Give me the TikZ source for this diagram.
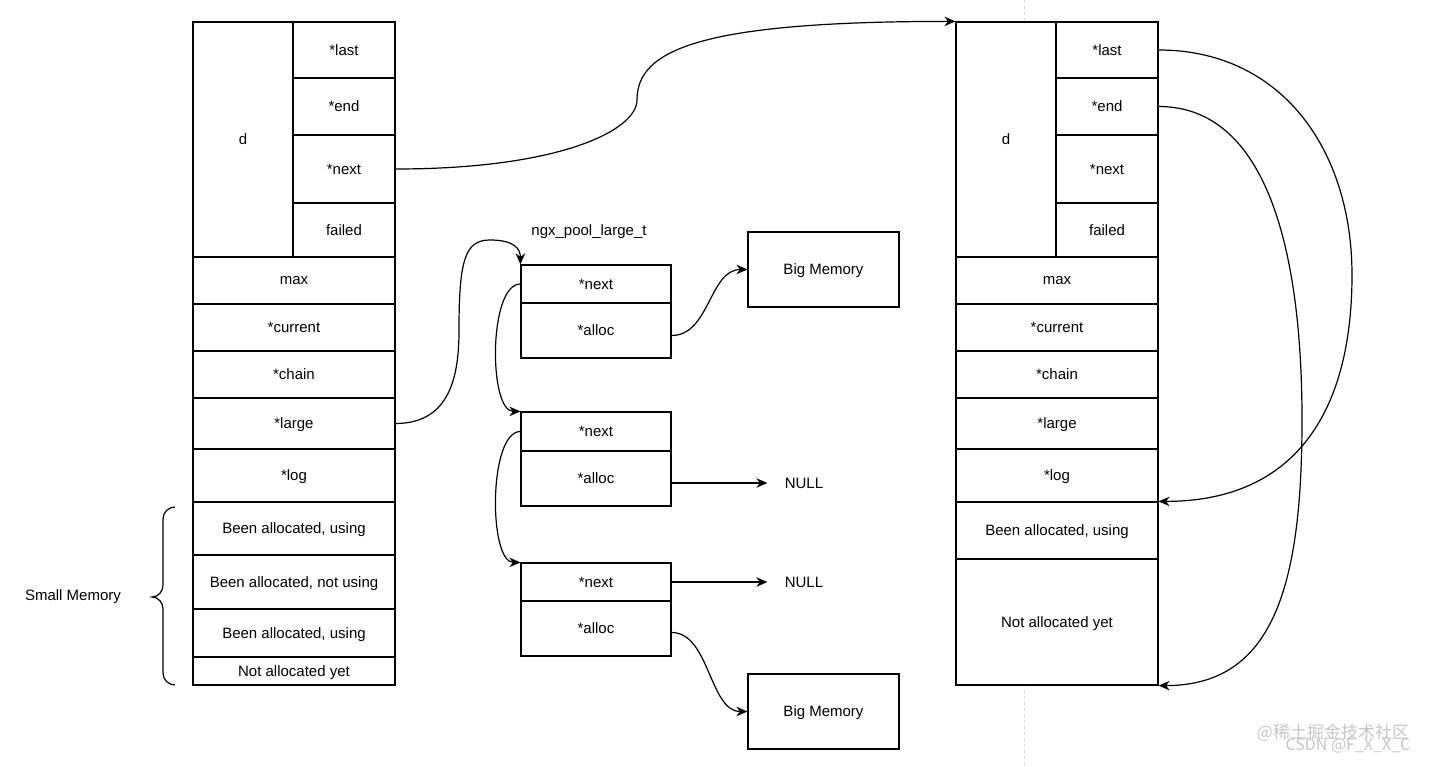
\documentclass[tikz,border=0pt]{standalone}
\usepackage{fontspec}
\setmainfont{Liberation Sans}
\newfontfamily\cjkfont{Noto Sans CJK SC}
\usetikzlibrary{arrows.meta}

\begin{document}
\begin{tikzpicture}[x=1pt, y=-1pt, line width=1.2pt,
    font=\fontsize{15}{18}\selectfont,
    >={Stealth[length=11pt,width=9.5pt,inset=3.5pt]},
    cell/.style={draw, fill=white, inner sep=0pt, text depth=0pt}]
      \useasboundingbox (0,0) rectangle (1433,767);

      % page break line behind the right block
      \draw[gray!30, dashed, line width=1pt] (1024,0) -- (1024,767);

      % the two pool blocks
      \foreach \blk/\sx in {L/0, R/763} {
        \node[cell, minimum width=100pt, minimum height=235pt] (\blk d) at ({243+\sx},139.5) {d};
        \foreach \nm/\yt/\yb/\txt in {last/22/78/*last, end/78/135/*end, next/135/203/*next, failed/203/257/failed}
          \node[cell, minimum width=102pt, minimum height={(\yb-\yt)*1pt}] (\blk\nm) at ({344+\sx},{(\yt+\yb)/2}) {\txt};
        \foreach \nm/\yt/\yb/\txt in {max/257/304/max, current/304/351/*current, chain/351/398/*chain, large/398/449/*large, log/449/502/*log}
          \node[cell, minimum width=202pt, minimum height={(\yb-\yt)*1pt}] (\blk\nm) at ({294+\sx},{(\yt+\yb)/2}) {\txt};
      }
      \foreach \nm/\yt/\yb/\txt in {usedA/502/555/{Been allocated, using}, unused/555/609/{Been allocated, not using}, usedB/609/657/{Been allocated, using}, free/657/685/{Not allocated yet}}
        \node[cell, minimum width=202pt, minimum height={(\yb-\yt)*1pt}] (L\nm) at (294,{(\yt+\yb)/2}) {\txt};
      \foreach \nm/\yt/\yb/\txt in {used/502/559/{Been allocated, using}, free/559/685/{Not allocated yet}}
        \node[cell, minimum width=202pt, minimum height={(\yb-\yt)*1pt}] (R\nm) at (1057,{(\yt+\yb)/2}) {\txt};

      % ngx_pool_large_t chain
      \node (title) at (589,232) {ngx\_pool\_large\_t};
      \foreach \i/\yt/\ym/\yb in {1/265/303/358, 2/412/451/506, 3/563/601/656} {
        \node[cell, minimum width=150pt, minimum height={(\ym-\yt)*1pt}] (P\i next) at (596,{(\yt+\ym)/2}) {*next};
        \node[cell, minimum width=150pt, minimum height={(\yb-\ym)*1pt}] (P\i alloc) at (596,{(\ym+\yb)/2}) {*alloc};
      }
      \node[cell, minimum width=151pt, minimum height=75pt] (big1) at (823.5,269.5) {Big Memory};
      \node[cell, minimum width=151pt, minimum height=75pt] (big2) at (823.5,711.5) {Big Memory};
      \node[minimum width=72pt] (null1) at (804,483) {NULL};
      \node[minimum width=72pt] (null2) at (804,582) {NULL};

      % small memory brace
      \node (small) at (73,597) {Small Memory};
      \draw (175,507) to[out=180,in=90] (163,519) -- (163,585) to[out=-90,in=0] (152,597)
        to[out=0,in=90] (163,609) -- (163,673) to[out=-90,in=180] (175,685);

      \draw[->] (Lnext.east) .. controls +(165,0) and +(0,30) .. (637,100)
        .. controls +(0,-50) and +(-256,0) .. (Rd.north west);
      \draw[->] (Llarge.east) .. controls +(55,0) and +(0,45) .. (459,330)
        .. controls +(0,-70) and +(-25,0) .. (490,240)
        .. controls +(25,0) and +(0,-15) .. (P1next.north west);
      \draw[->] (P1next.west) .. controls +(-32,0) and +(-32,0) .. (P2next.north west);
      \draw[->] (P2next.west) .. controls +(-32,0) and +(-32,0) .. (P3next.north west);
      \draw[->] ([yshift=-5pt]P1alloc.east) .. controls +(38,0) and +(-38,0) .. (big1.west);
      \draw[->] (P2alloc.east |- null1) -- (null1.west);
      \draw[->] (P3next.east) -- (null2.west);
      \draw[->] ([yshift=-4pt]P3alloc.east) .. controls +(38,0) and +(-38,0) .. (big2.west);

      \draw[->] (Rlast.east) .. controls +(123,0) and +(0,-125) .. (1352,275)
        .. controls +(0,135) and +(138,0) .. (Rused.north east);
      \draw[->] (Rend.east) .. controls +(108,0) and +(0,-170) .. (1302,420)
        .. controls +(0,170) and +(113,0) .. (Rfree.south east);

      \node[font=\cjkfont\fontsize{17}{20}\selectfont, text=gray!45] (wm1) at (1333,733) {@稀土掘金技术社区};
      \node[font=\cjkfont\fontsize{16}{20}\selectfont, text=gray!45] (wm2) at (1348,746) {CSDN @F\_X\_X\_C};
    \end{tikzpicture}
\end{document}
